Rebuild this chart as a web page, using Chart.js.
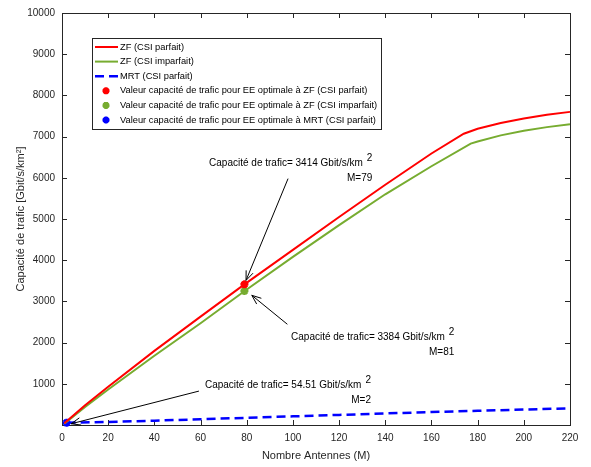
<!DOCTYPE html>
<html>
<head>
<meta charset="utf-8">
<script src="https://cdn.jsdelivr.net/npm/chart.js@4.4.1/dist/chart.umd.min.js"></script>
<style>
  body { margin: 0; background: #fff; }
  canvas { display: block; }
</style>
</head>
<body>
<canvas id="chart" width="591" height="467"></canvas>
<script>
// number of antennas (M) for each curve
const mZfPerfect = [1, 10, 20, 40, 60, 79, 100, 120, 140, 160, 174, 180, 190, 200, 210, 220];
const zfPerfect = [40, 480, 930, 1800, 2630, 3414, 4250, 5050, 5830, 6590, 7070, 7190, 7330, 7440, 7530, 7600];

const mZfImperfect = [1, 10, 20, 40, 60, 80, 100, 120, 140, 160, 177, 180, 190, 200, 210, 220];
const zfImperfect = [30, 440, 860, 1680, 2470, 3290, 4080, 4850, 5600, 6280, 6830, 6880, 7030, 7140, 7230, 7300];

const mMrt = [2, 20, 40, 60, 80, 100, 120, 140, 160, 180, 200, 220];
const mrtPerfect = [54.51, 75, 105, 140, 175, 210, 245, 280, 315, 345, 375, 405];

// optimal EE points
const optZfPerfect = [79, 3414];
const optZfImperfect = [79, 3250];
const optMrt = [2, 54.51];

const xTicks = [0, 20, 40, 60, 80, 100, 120, 140, 160, 180, 200, 220];
const yTicks = [0, 1000, 2000, 3000, 4000, 5000, 6000, 7000, 8000, 9000, 10000];

const FONT = '"Liberation Sans", Arial, sans-serif';
const AXIS = '#262626';

function pts(xs, ys) { return xs.map((x, i) => ({ x: x, y: ys[i] })); }

// text annotations with arrows (positions in data units)
const notes = [
  { text: 'Capacité de trafic= 3414 Gbit/s/km', m: 'M=79', at: [63.7, 6344], tail: [97.9, 5980], tip: [79.7, 3511] },
  { text: 'Capacité de trafic= 3384 Gbit/s/km', m: 'M=81', at: [99.2, 2131], tail: [97.6, 2445], tip: [82.2, 3148] },
  { text: 'Capacité de trafic= 54.51 Gbit/s/km', m: 'M=2', at: [61.9, 969], tail: [59.3, 823], tip: [4, 30] },
];

function arrow(ctx, x1, y1, x2, y2) {
  const a = Math.atan2(y2 - y1, x2 - x1);
  const L = 10, w = 0.38;
  ctx.beginPath();
  ctx.moveTo(x1, y1);
  ctx.lineTo(x2, y2);
  ctx.moveTo(x2 - L * Math.cos(a - w), y2 - L * Math.sin(a - w));
  ctx.lineTo(x2, y2);
  ctx.lineTo(x2 - L * Math.cos(a + w), y2 - L * Math.sin(a + w));
  ctx.stroke();
}

const boxPlugin = {
  id: 'matlabBox',
  beforeDatasetsDraw(chart) {
    const { ctx, chartArea: a, scales: { x, y } } = chart;
    ctx.save();
    ctx.strokeStyle = AXIS;
    ctx.lineWidth = 1;
    ctx.strokeRect(a.left + 0.5, a.top + 0.5, a.right - a.left, a.bottom - a.top);
    ctx.beginPath();
    xTicks.forEach(t => {
      const px = Math.round(x.getPixelForValue(t)) + 0.5;
      ctx.moveTo(px, a.bottom); ctx.lineTo(px, a.bottom - 5);
      ctx.moveTo(px, a.top); ctx.lineTo(px, a.top + 5);
    });
    yTicks.forEach(t => {
      const py = Math.round(y.getPixelForValue(t)) + 0.5;
      ctx.moveTo(a.left, py); ctx.lineTo(a.left + 5, py);
      ctx.moveTo(a.right, py); ctx.lineTo(a.right - 5, py);
    });
    ctx.stroke();
    ctx.restore();
  },
  afterDatasetsDraw(chart) {
    const { ctx, scales: { x, y } } = chart;
    ctx.save();
    // annotations
    ctx.strokeStyle = '#000';
    ctx.fillStyle = '#000';
    ctx.lineWidth = 1;
    notes.forEach(n => {
      arrow(ctx, x.getPixelForValue(n.tail[0]), y.getPixelForValue(n.tail[1]),
                 x.getPixelForValue(n.tip[0]), y.getPixelForValue(n.tip[1]));
      const tx = x.getPixelForValue(n.at[0]);
      const ty = y.getPixelForValue(n.at[1]);
      ctx.font = '10px ' + FONT;
      ctx.textAlign = 'left';
      ctx.textBaseline = 'middle';
      ctx.fillText(n.text, tx, ty);
      const w = ctx.measureText(n.text).width;
      ctx.fillText('2', tx + w + 4, ty - 5);
      const right = tx + w + 4 + ctx.measureText('2').width;
      ctx.textAlign = 'right';
      ctx.fillText(n.m, right, ty + 15);
    });

    // legend box
    const L = 92, T = 38, R = 381, B = 129;
    ctx.fillStyle = '#fff';
    ctx.fillRect(L, T, R - L, B - T);
    ctx.strokeStyle = '#262626';
    ctx.lineWidth = 1;
    ctx.strokeRect(L + 0.5, T + 0.5, R - L, B - T);
    ctx.font = '9.3px ' + FONT;
    ctx.textAlign = 'left';
    ctx.textBaseline = 'middle';
    chart.data.datasets.forEach((ds, i) => {
      const ry = T + 9 + i * 14.6;
      if (ds.showLine === false) {
        ctx.save();
        ctx.strokeStyle = ds.borderColor;
        ctx.fillStyle = ds.borderColor;
        ctx.lineWidth = 2.5;
        Chart.helpers.drawPoint(ctx, { pointStyle: 'star', radius: 3.5, borderWidth: 2.5 }, 106, ry);
        ctx.restore();
      } else {
        ctx.save();
        ctx.strokeStyle = ds.borderColor;
        ctx.lineWidth = ds.borderWidth;
        ctx.setLineDash(ds.borderDash || []);
        ctx.beginPath();
        ctx.moveTo(95, ry); ctx.lineTo(118, ry);
        ctx.stroke();
        ctx.restore();
      }
      ctx.fillStyle = '#000';
      ctx.fillText(ds.label, 120, ry);
    });
    ctx.restore();
  }
};

const starSet = (label, p, color) => ({
  label: label,
  data: [{ x: p[0], y: p[1] }],
  showLine: false,
  borderColor: color,
  backgroundColor: color,
  pointStyle: 'star',
  pointRadius: 4,
  pointBorderWidth: 2.5,
});

new Chart(document.getElementById('chart'), {
  type: 'line',
  data: {
    datasets: [
      { label: 'ZF (CSI parfait)', data: pts(mZfPerfect, zfPerfect), borderColor: '#ff0000', borderWidth: 2, pointRadius: 0, tension: 0 },
      { label: 'ZF (CSI imparfait)', data: pts(mZfImperfect, zfImperfect), borderColor: '#77ac30', borderWidth: 2, pointRadius: 0, tension: 0 },
      { label: 'MRT (CSI parfait)', data: pts(mMrt, mrtPerfect), borderColor: '#0000ff', borderWidth: 2.5, borderDash: [9, 5], pointRadius: 0, tension: 0 },
      starSet('Valeur capacité de trafic pour EE optimale à ZF (CSI parfait)', optZfPerfect, '#ff0000'),
      starSet('Valeur capacité de trafic pour EE optimale à ZF (CSI imparfait)', optZfImperfect, '#77ac30'),
      starSet('Valeur capacité de trafic pour EE optimale à MRT (CSI parfait)', optMrt, '#0000ff'),
    ]
  },
  options: {
    responsive: false,
    animation: false,
    clip: false,
    layout: { padding: { top: 12, right: 21, left: 0, bottom: 0 } },
    plugins: { legend: { display: false }, tooltip: { enabled: false } },
    scales: {
      x: {
        type: 'linear', min: 0, max: 220,
        afterBuildTicks: s => { s.ticks = xTicks.map(v => ({ value: v })); },
        afterFit: s => { s.height = 42; },
        grid: { display: false, drawTicks: false },
        border: { display: false },
        ticks: { font: { family: FONT, size: 10 }, color: AXIS, padding: 7, maxRotation: 0 },
        title: { display: true, text: 'Nombre Antennes (M)', font: { family: FONT, size: 11 }, color: AXIS, padding: { top: 0, bottom: 4 } },
      },
      y: {
        type: 'linear', min: 0, max: 10000,
        afterBuildTicks: s => { s.ticks = yTicks.map(v => ({ value: v })); },
        afterFit: s => { s.width = 62; },
        grid: { display: false, drawTicks: false },
        border: { display: false },
        ticks: { font: { family: FONT, size: 10 }, color: AXIS, padding: 7, callback: v => v === 0 ? '' : String(v) },
        title: { display: true, text: 'Capacité de trafic [Gbit/s/km²]', font: { family: FONT, size: 11 }, color: AXIS, padding: { top: 14, bottom: 0 } },
      }
    }
  },
  plugins: [boxPlugin]
});
</script>
</body>
</html>
